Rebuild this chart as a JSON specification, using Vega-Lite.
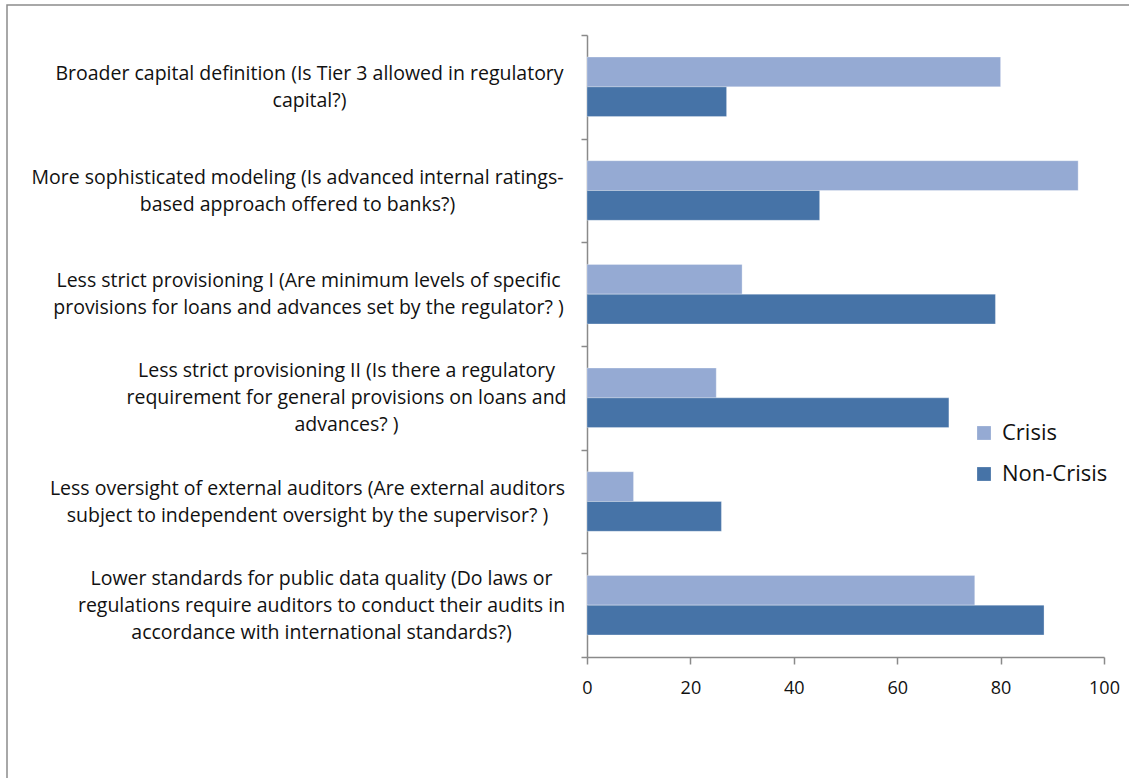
{
  "$schema": "https://vega.github.io/schema/vega-lite/v6.json",
  "width": 1124,
  "height": 775,
  "autosize": {"type": "none"},
  "padding": {"left": 7, "top": 5, "right": -2, "bottom": -2},
  "config": {
    "font": "Open Sans",
    "view": {"stroke": "#8c8c8c", "strokeWidth": 1.5}
  },
  "data": {
    "values": [
      {"question": "Broader capital definition (Is Tier 3 allowed in regulatory|capital?)", "group": "Crisis", "share": 80},
      {"question": "Broader capital definition (Is Tier 3 allowed in regulatory|capital?)", "group": "Non-Crisis", "share": 27},
      {"question": "More sophisticated modeling (Is advanced internal ratings-|based approach offered to banks?)", "group": "Crisis", "share": 95},
      {"question": "More sophisticated modeling (Is advanced internal ratings-|based approach offered to banks?)", "group": "Non-Crisis", "share": 45},
      {"question": "Less strict provisioning I (Are minimum levels of specific|provisions for loans and advances set by the regulator? )", "group": "Crisis", "share": 30},
      {"question": "Less strict provisioning I (Are minimum levels of specific|provisions for loans and advances set by the regulator? )", "group": "Non-Crisis", "share": 79},
      {"question": "Less strict provisioning II (Is there a regulatory|requirement for general provisions on loans and|advances? )", "group": "Crisis", "share": 25},
      {"question": "Less strict provisioning II (Is there a regulatory|requirement for general provisions on loans and|advances? )", "group": "Non-Crisis", "share": 70},
      {"question": "Less oversight of external auditors (Are external auditors|subject to independent oversight by the supervisor? )", "group": "Crisis", "share": 9},
      {"question": "Less oversight of external auditors (Are external auditors|subject to independent oversight by the supervisor? )", "group": "Non-Crisis", "share": 26},
      {"question": "Lower standards for public data quality (Do laws or|regulations require auditors to conduct their audits in|accordance with international standards?)", "group": "Crisis", "share": 75},
      {"question": "Lower standards for public data quality (Do laws or|regulations require auditors to conduct their audits in|accordance with international standards?)", "group": "Non-Crisis", "share": 88.4}
    ]
  },
  "mark": {"type": "bar", "stroke": "#ffffff", "strokeWidth": 0.6, "strokeOpacity": 0.5},
  "encoding": {
    "y": {
      "field": "question",
      "type": "nominal",
      "sort": null,
      "scale": {"range": [30, 652], "paddingInner": 0, "paddingOuter": 0},
      "axis": {
        "title": null,
        "offset": -580,
        "tickBand": "extent",
        "grid": false,
        "domainColor": "#8a8a8a",
        "domainWidth": 1.5,
        "tickColor": "#8a8a8a",
        "tickWidth": 1.5,
        "tickSize": 6,
        "labelExpr": "datum.value ? split(datum.value, '|') : ''",
        "labelAlign": "center",
        "labelBaseline": "middle",
        "labelFont": "Open Sans",
        "labelFontSize": 19.5,
        "labelLineHeight": 27,
        "labelColor": "#111111",
        "labelLimit": 0,
        "labelOffset": {
          "condition": [
            {"test": "datum.value == 'Less strict provisioning II (Is there a regulatory|requirement for general provisions on loans and|advances? )'", "value": -27},
            {"test": "datum.value == 'Lower standards for public data quality (Do laws or|regulations require auditors to conduct their audits in|accordance with international standards?)'", "value": -27}
          ],
          "value": -13.5
        },
        "labelPadding": {
          "condition": [
            {"test": "datum.value == 'Broader capital definition (Is Tier 3 allowed in regulatory|capital?)'", "value": 272},
            {"test": "datum.value == 'More sophisticated modeling (Is advanced internal ratings-|based approach offered to banks?)'", "value": 284},
            {"test": "datum.value == 'Less strict provisioning I (Are minimum levels of specific|provisions for loans and advances set by the regulator? )'", "value": 273},
            {"test": "datum.value == 'Less strict provisioning II (Is there a regulatory|requirement for general provisions on loans and|advances? )'", "value": 235},
            {"test": "datum.value == 'Less oversight of external auditors (Are external auditors|subject to independent oversight by the supervisor? )'", "value": 274}
          ],
          "value": 260
        }
      }
    },
    "yOffset": {
      "field": "group",
      "sort": ["Crisis", "Non-Crisis"],
      "scale": {"paddingInner": 0, "paddingOuter": 0.74}
    },
    "x": {
      "field": "share",
      "type": "quantitative",
      "scale": {"domain": [0, 100], "range": [580, 1097], "nice": false},
      "axis": {
        "title": null,
        "offset": -123,
        "values": [0, 20, 40, 60, 80, 100],
        "grid": false,
        "domainColor": "#8a8a8a",
        "domainWidth": 1.5,
        "tickColor": "#8a8a8a",
        "tickWidth": 1.5,
        "tickSize": 7,
        "labelFont": "Open Sans",
        "labelFontSize": 18,
        "labelColor": "#111111",
        "labelPadding": 15,
        "labelFlush": false
      }
    },
    "color": {
      "field": "group",
      "type": "nominal",
      "scale": {"domain": ["Crisis", "Non-Crisis"], "range": ["#95AAD3", "#4673A7"]},
      "legend": {
        "title": null,
        "orient": "none",
        "legendX": 966,
        "legendY": 417,
        "symbolType": "square",
        "symbolSize": 190,
        "symbolStrokeWidth": 0,
        "labelFont": "Open Sans",
        "labelFontSize": 22,
        "labelColor": "#111111",
        "labelOffset": 7,
        "rowPadding": 19
      }
    }
  }
}
